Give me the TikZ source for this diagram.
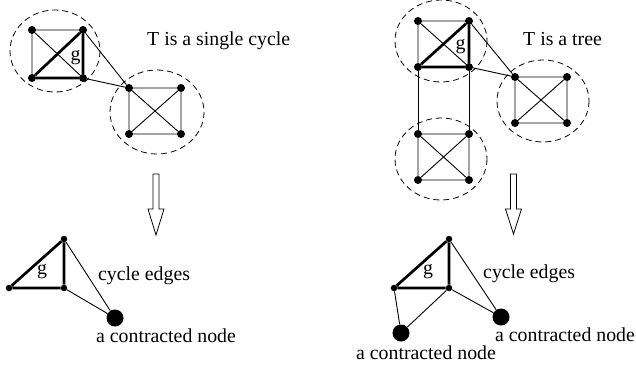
\documentclass[tikz,border=0pt]{standalone}
\usepackage{fontspec}
\setmainfont{Liberation Serif}
\begin{document}
\begin{tikzpicture}[x=1pt,y=-1pt,
  vtx/.style={circle,fill=black,inner sep=0pt,minimum size=8pt},
  svtx/.style={circle,fill=black,inner sep=0pt,minimum size=6.5pt},
  bvtx/.style={circle,fill=black,inner sep=0pt,minimum size=17pt},
  thin edge/.style={line width=0.9pt},
  thick edge/.style={line width=2.7pt},
  cluster/.style={draw,dashed,dash pattern=on 6pt off 4pt,line width=0.8pt},
  lbl/.style={font=\fontsize{19.8}{22}\selectfont,inner sep=0pt,anchor=base west},
  glbl/.style={font=\fontsize{19.8}{22}\selectfont,inner sep=0pt,anchor=base},
  bigarrow/.style={draw,fill=white,line width=0.8pt,line join=miter}
]
\useasboundingbox (0,0) rectangle (636,372);

% ---------------- left panel ----------------
\draw[cluster] (55,51) ellipse [x radius=45, y radius=41];
\draw[cluster] (157,112) ellipse [x radius=47, y radius=42];

\node[vtx] (a1) at (32,30) {};
\node[vtx] (a2) at (83,30) {};
\node[vtx] (a3) at (32,78) {};
\node[vtx] (a4) at (83,78) {};
\node[vtx] (b1) at (129,88) {};
\node[vtx] (b2) at (181,88) {};
\node[vtx] (b3) at (129,134) {};
\node[vtx] (b4) at (181,134) {};

\draw[thin edge] (a1) -- (a2) (a1) -- (a3) (a1) -- (a4);
\draw[thick edge] (a3) -- (a4) (a2) -- (a4) (a3) -- (a2);
\draw[thin edge] (b1) -- (b2) -- (b4) -- (b3) -- (b1) (b1) -- (b4) (b2) -- (b3);
\draw[thin edge] (a2) -- (b1) (a4) -- (b1);
\node[glbl] (g1) at (75.5,60) {g};

\node[lbl] (t1) at (147,45) {T is a single cycle};

\draw[bigarrow] (153,174) -- (159,174) -- (159,209) -- (164,209) -- (156,235) -- (148,209) -- (153,209) -- cycle;
\coordinate (arrL) at (156,235);

\node[svtx] (c1) at (9,288) {};
\node[svtx] (c2) at (64,239) {};
\node[svtx] (c3) at (64,288) {};
\node[bvtx] (c4) at (115,318) {};
\draw[thick edge] (c1) -- (c2) -- (c3) -- (c1);
\draw[thin edge] (c2) -- (c4) (c3) -- (c4);
\node[glbl] (g2) at (42,274) {g};
\node[lbl] (ce1) at (98,280) {cycle edges};
\node[lbl] (cn1) at (96,342) {a contracted node};

% ---------------- right panel ----------------
\draw[cluster] (441,41) ellipse [x radius=46, y radius=41];
\draw[cluster] (543,101) ellipse [x radius=46, y radius=41];
\draw[cluster] (441,159) ellipse [x radius=46, y radius=41];

\node[vtx] (p1) at (418,21) {};
\node[vtx] (p2) at (469,21) {};
\node[vtx] (p3) at (418,67) {};
\node[vtx] (p4) at (469,67) {};
\node[vtx] (q1) at (515,77) {};
\node[vtx] (q2) at (567,77) {};
\node[vtx] (q3) at (515,123) {};
\node[vtx] (q4) at (567,123) {};
\node[vtx] (r1) at (418,134) {};
\node[vtx] (r2) at (469,134) {};
\node[vtx] (r3) at (418,180) {};
\node[vtx] (r4) at (469,180) {};

\draw[thin edge] (p1) -- (p2) (p1) -- (p3) (p1) -- (p4);
\draw[thick edge] (p3) -- (p4) (p2) -- (p4) (p3) -- (p2);
\draw[thin edge] (q1) -- (q2) -- (q4) -- (q3) -- (q1) (q1) -- (q4) (q2) -- (q3);
\draw[thin edge] (r1) -- (r2) -- (r4) -- (r3) -- (r1) (r1) -- (r4) (r2) -- (r3);
\draw[thin edge] (p2) -- (q1) (p4) -- (q1);
\draw[thin edge] (p3) -- (r1) (p4) -- (r2);
\node[glbl] (g3) at (460.5,49) {g};

\node[lbl] (t2) at (523,45) {T is a tree};

\draw[bigarrow] (510.5,174) -- (516.5,174) -- (516.5,209) -- (521.5,209) -- (513.5,234) -- (505.5,209) -- (510.5,209) -- cycle;

\node[svtx] (d1) at (394,288) {};
\node[svtx] (d2) at (449,239) {};
\node[svtx] (d3) at (449,288) {};
\node[bvtx] (d4) at (501,317) {};
\node[bvtx] (d5) at (401,333) {};
\draw[thick edge] (d1) -- (d2) -- (d3) -- (d1);
\draw[thin edge] (d2) -- (d4) (d3) -- (d4) (d1) -- (d5) (d3) -- (d5);
\node[glbl] (g4) at (428,274) {g};
\node[lbl] (ce2) at (483,278) {cycle edges};
\node[lbl] (cn2) at (495,341) {a contracted node};
\node[lbl] (cn3) at (356,359) {a contracted node};
\end{tikzpicture}
\end{document}
